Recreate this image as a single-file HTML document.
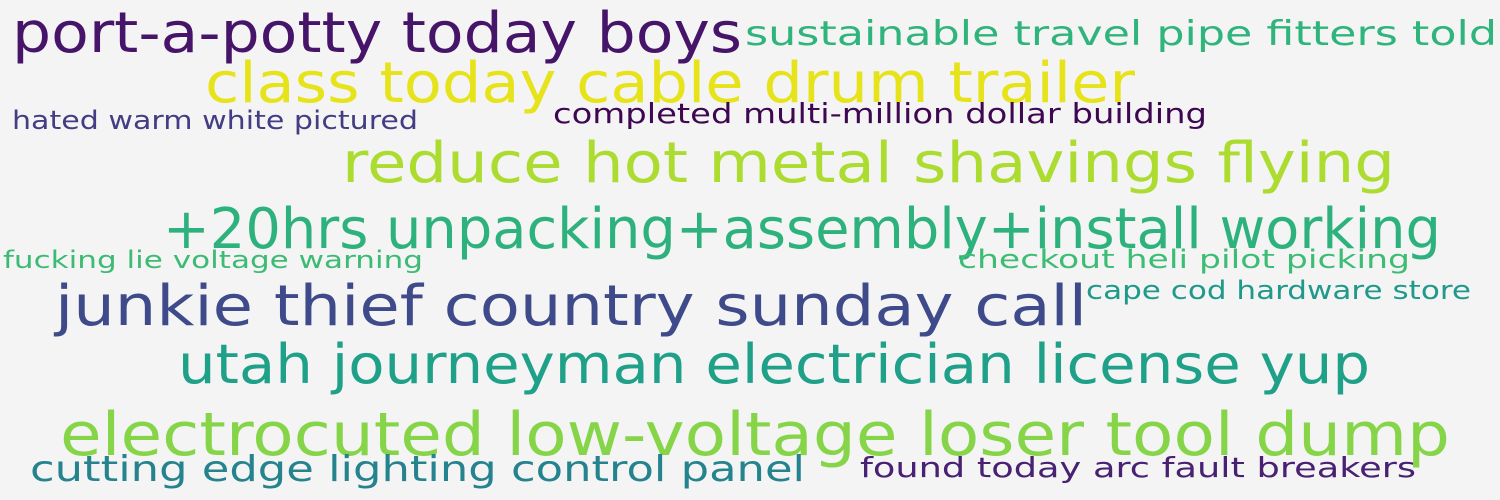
<!DOCTYPE html>
<html><head><meta charset="utf-8"><style>
html,body{margin:0;padding:0;background:#f4f4f4;}
svg{display:block;}
text{font-family:"DejaVu Sans","Liberation Sans",sans-serif;}
</style></head><body>
<svg id="cloud" width="1500" height="500" viewBox="0 0 1500 500" xmlns="http://www.w3.org/2000/svg">
<rect width="1500" height="500" fill="#f4f4f4"/>
</svg>
<script>
const phrases = ["port-a-potty today boys","sustainable travel pipe fitters told","class today cable drum trailer","hated warm white pictured","completed multi-million dollar building","reduce hot metal shavings flying","+20hrs unpacking+assembly+install working","fucking lie voltage warning","checkout heli pilot picking","junkie thief country sunday call","cape cod hardware store","utah journeyman electrician license yup","electrocuted low-voltage loser tool dump","cutting edge lighting control panel","found today arc fault breakers"];
const weights = [56,34,56,26,28,56,56,24,26,56,26,54,60,36,28];
const colors = ["#461468","#2fb47c","#e6e31b","#433d84","#3e0751","#addc30","#2db27d","#3dbb74","#3dbc74","#3e4a89","#1f9a8a","#1fa088","#86d549","#25838e","#482173"];
const layoutX = [12,745,205,12,553,342,163,3,958,55,1086,178,60,30,860];
const layoutEnd = [742,1497,1135,418,1207,1395,1441,423,1410,1087,1471,1370,1450,805,1416];
const layoutY = [52,45,102,129,123,182,248,268,268,325,299,383,455,481,477];
const svg = document.getElementById('cloud');
const NS = 'http://www.w3.org/2000/svg';
phrases.forEach((p,i)=>{
  const t = document.createElementNS(NS,'text');
  t.setAttribute('x', layoutX[i]);
  t.setAttribute('y', layoutY[i]);
  t.setAttribute('font-size', weights[i]);
  t.setAttribute('fill', colors[i]);
  t.setAttribute('textLength', layoutEnd[i]-layoutX[i]);
  t.setAttribute('lengthAdjust', 'spacingAndGlyphs');
  t.textContent = p;
  
  
  svg.appendChild(t);
});
</script>
</body></html>
